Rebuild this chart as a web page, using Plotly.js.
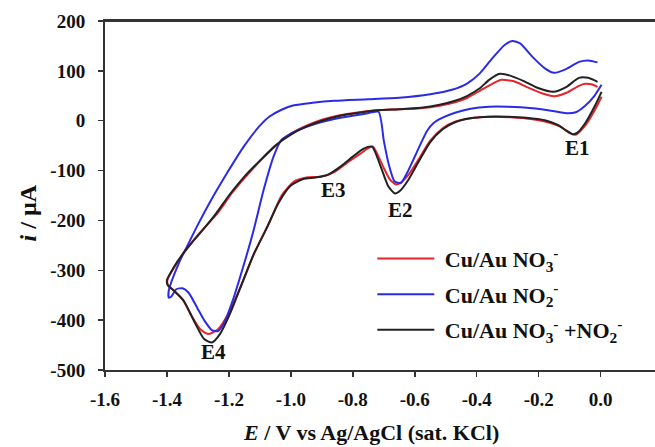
<!DOCTYPE html>
<html>
<head>
<meta charset="utf-8">
<script src="https://cdn.plot.ly/plotly-3.0.1.min.js"></script>
<style>html,body{margin:0;padding:0;background:#fff;}#chart{width:655px;height:447px;}</style>
</head>
<body>
<div id="chart"></div>
<script>
// Cu/Au NO3- (red)
const redE = [0.003,-0.02,-0.05,-0.08,-0.10,-0.13,-0.17,-0.22,-0.29,-0.36,-0.42,-0.47,-0.51,-0.55,-0.59,-0.62,-0.645,-0.66,-0.68,-0.70,-0.72,-0.735,-0.75,-0.78,-0.82,-0.86,-0.90,-0.95,-0.99,-1.03,-1.07,-1.12,-1.16,-1.20,-1.235,-1.265,-1.29,-1.32,-1.35,-1.38,-1.397,
  -1.398,-1.37,-1.33,-1.29,-1.24,-1.19,-1.14,-1.09,-1.04,-1.00,-0.95,-0.90,-0.85,-0.78,-0.72,-0.65,-0.58,-0.52,-0.47,-0.43,-0.39,-0.35,-0.32,-0.28,-0.24,-0.19,-0.15,-0.11,-0.07,-0.05,-0.03,-0.01];
const redI = [48,20,-10,-28,-25,-12,-3,3,7,8,5,-2,-15,-40,-80,-108,-124,-128,-118,-95,-68,-52,-55,-68,-85,-103,-112,-114,-122,-150,-205,-268,-330,-385,-418,-428,-420,-392,-358,-340,-330,
  -318,-288,-252,-222,-188,-145,-108,-75,-45,-26,-10,2,10,17,21,23,25,30,37,46,60,74,82,79,68,55,49,56,70,74,73,68];
// Cu/Au NO2- (blue)
const blueE = [0.003,-0.02,-0.05,-0.08,-0.11,-0.16,-0.22,-0.30,-0.36,-0.42,-0.47,-0.51,-0.54,-0.56,-0.58,-0.60,-0.625,-0.645,-0.665,-0.685,-0.70,-0.717,-0.76,-0.82,-0.87,-0.92,-0.97,-1.00,-1.03,-1.056,-1.088,-1.12,-1.15,-1.19,-1.215,-1.235,-1.255,-1.28,-1.30,-1.33,-1.35,-1.37,-1.385,-1.394,
  -1.394,-1.385,-1.37,-1.35,-1.335,-1.303,-1.26,-1.206,-1.15,-1.10,-1.07,-1.03,-0.99,-0.93,-0.86,-0.75,-0.65,-0.55,-0.48,-0.43,-0.39,-0.35,-0.31,-0.285,-0.26,-0.22,-0.18,-0.15,-0.11,-0.07,-0.04,-0.01];
const blueI = [72,50,30,17,15,20,25,28,28,24,16,6,-5,-20,-45,-72,-105,-125,-122,-85,-40,18,14,8,2,-6,-17,-26,-38,-72,-139,-219,-285,-365,-405,-422,-420,-400,-378,-345,-336,-338,-352,-355,
  -340,-322,-298,-270,-252,-212,-162,-105,-50,-10,8,22,31,36,40,43,46,53,62,75,95,125,152,160,155,128,105,96,104,118,121,117];
// Cu/Au NO3- + NO2- (black)
const blackE = [0.003,-0.02,-0.05,-0.075,-0.09,-0.11,-0.14,-0.18,-0.24,-0.30,-0.36,-0.42,-0.47,-0.51,-0.55,-0.59,-0.62,-0.645,-0.664,-0.685,-0.71,-0.738,-0.765,-0.80,-0.84,-0.88,-0.92,-0.96,-1.00,-1.04,-1.08,-1.12,-1.16,-1.195,-1.228,-1.255,-1.28,-1.31,-1.345,-1.375,-1.397,
  -1.4,-1.38,-1.35,-1.32,-1.28,-1.24,-1.20,-1.15,-1.10,-1.05,-1.00,-0.95,-0.90,-0.84,-0.78,-0.72,-0.65,-0.58,-0.52,-0.47,-0.43,-0.39,-0.36,-0.325,-0.29,-0.25,-0.20,-0.153,-0.11,-0.07,-0.04,-0.01];
const blackI = [58,28,-5,-24,-27,-20,-8,1,6,8,8,5,-3,-17,-43,-85,-118,-139,-146,-132,-92,-52,-56,-72,-92,-108,-114,-117,-130,-165,-218,-268,-330,-385,-427,-445,-438,-405,-362,-342,-330,
  -320,-296,-268,-245,-216,-185,-150,-112,-80,-50,-28,-12,0,10,16,21,23,26,32,40,50,65,82,94,90,80,65,58,68,86,86,78];

const seriesNames = ["Cu/Au NO<sub>3</sub><sup>-</sup>", "Cu/Au NO<sub>2</sub><sup>-</sup>", "Cu/Au NO<sub>3</sub><sup>-</sup> +NO<sub>2</sub><sup>-</sup>"];
const seriesColors = ["#e8232b", "#2b2be6", "#222222"];

const peakLabels = ["E1", "E2", "E3", "E4"];
const peakE = [-0.076, -0.647, -0.863, -1.25];
const peakI = [-55, -179, -139, -463];

const xTicks = [-1.6,-1.4,-1.2,-1.0,-0.8,-0.6,-0.4,-0.2,0.0];
const xTickText = ["-1.6","-1.4","-1.2","-1.0","-0.8","-0.6","-0.4","-0.2","0.0"];
const yTicks = [-500,-400,-300,-200,-100,0,100,200];
const yTickText = ["-500","-400","-300","-200","-100","0","100","200"];

const xTitle = "<b><i>E</i> / V vs Ag/AgCl (sat. KCl)</b>";
const yTitle = "<b><i>i</i> / µA</b>";

const serif = "Liberation Serif, Times New Roman, serif";
const bold = t => "<b>" + t + "</b>";

// plot-area geometry (px) used to place the axis titles
const L = 104.6, R = 655, T = 20.5, B = 370.5;
const px2paperX = p => (p - L) / (R - L);
const px2paperY = p => (B - p) / (B - T);

const data = [
  {x: redE, y: redI, name: seriesNames[0], color: seriesColors[0]},
  {x: blueE, y: blueI, name: seriesNames[1], color: seriesColors[1]},
  {x: blackE, y: blackI, name: seriesNames[2], color: seriesColors[2]}
].map((s, k) => ({
  x: s.x, y: s.y, name: bold("&nbsp;" + s.name), type: "scatter", mode: "lines",
  legendgroup: "g" + k,
  line: {color: s.color, width: 2, shape: "spline", smoothing: 0.6}
}));

const annotations = peakLabels.map((t, k) => ({
  x: peakE[k], y: peakI[k], xref: "x", yref: "y", text: bold(t),
  showarrow: false, font: {family: serif, size: 21, color: "#111"}
}));
annotations.push({
  x: px2paperX(27), y: px2paperY(213), xref: "paper", yref: "paper", text: yTitle,
  xanchor: "center", yanchor: "middle",
  showarrow: false, textangle: -90, font: {family: serif, size: 24, color: "#111"}
});
annotations.push({
  x: px2paperX(371), y: px2paperY(433), xref: "paper", yref: "paper", text: xTitle,
  xanchor: "center", yanchor: "middle",
  showarrow: false, font: {family: serif, size: 22, color: "#111"}
});

const layout = {
  width: 655, height: 447,
  margin: {l: L, r: 0, t: T, b: 447 - B},
  paper_bgcolor: "#fff", plot_bgcolor: "#fff",
  font: {family: serif, color: "#111"},
  xaxis: {
    range: [-1.6, 0.1755], tickvals: xTicks, ticktext: xTickText.map(bold),
    showline: true, linecolor: "#333", linewidth: 2, mirror: true,
    ticks: "outside", ticklen: 5, tickwidth: 1.5, tickcolor: "#333",
    showgrid: false, zeroline: false,
    tickfont: {family: serif, size: 19, color: "#111"},
    ticklabelstandoff: 6
  },
  yaxis: {
    range: [-500, 200], tickvals: yTicks, ticktext: yTickText.map(bold),
    showline: true, linecolor: "#333", linewidth: 2, mirror: false,
    ticks: "outside", ticklen: 5, tickwidth: 1.5, tickcolor: "#333",
    showgrid: false, zeroline: false,
    tickfont: {family: serif, size: 19, color: "#111"},
    ticklabelstandoff: 9
  },
  shapes: [
    {type: "line", xref: "paper", yref: "paper", x0: 0, x1: 1, y0: 1, y1: 1, line: {color: "#333", width: 2}}
  ],
  legend: {
    x: 0.486, y: 0.379, xanchor: "left", yanchor: "top",
    bgcolor: "rgba(0,0,0,0)", borderwidth: 0,
    font: {family: serif, size: 22, color: "#111"},
    itemwidth: 57, traceorder: "grouped", tracegroupgap: 4
  },
  showlegend: true,
  annotations: annotations
};

Plotly.newPlot("chart", data, layout, {displayModeBar: false, staticPlot: true});
</script>
</body>
</html>
